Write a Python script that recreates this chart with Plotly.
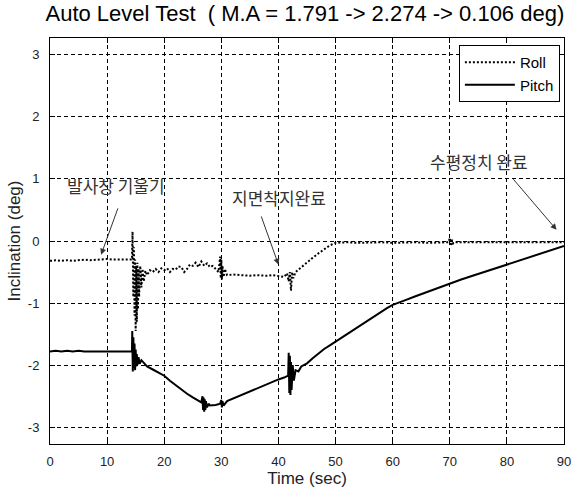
import plotly.graph_objects as go

# ---------------- data ----------------
roll_t = [0, 1, 2, 3, 4, 5, 6, 7, 8, 9, 10, 11, 12, 13, 14, 14.35,
          14.45, 14.5, 14.55, 14.6, 14.7, 14.8, 14.9, 15.0, 15.1, 15.2, 15.3, 15.4, 15.5, 15.6,
          15.8, 16.0, 16.2, 16.4, 16.7, 17, 17.5, 18, 18.5, 19, 19.5, 20, 20.5, 21, 21.5, 22,
          22.5, 23, 23.5, 24, 24.5, 25, 25.5, 26, 26.5, 27, 27.5, 28, 28.5, 29, 29.5, 29.8,
          29.9, 30.0, 30.1, 30.2, 30.4, 30.6, 31, 32, 33, 34, 35, 36, 37, 38, 39, 40, 41,
          41.5, 41.8, 42.0, 42.2, 42.4, 42.6, 43, 44, 45, 46, 47, 48, 49, 50, 51, 52, 54,
          56, 58, 60, 62, 64, 66, 68, 69.8, 70.0, 70.2, 70.4, 70.6, 71, 72, 74, 76, 78, 80,
          82, 84, 86, 88, 90]
roll_v = [-0.32, -0.31, -0.32, -0.31, -0.32, -0.31, -0.30, -0.31, -0.30, -0.29, -0.29, -0.30, -0.30, -0.29, -0.29, -0.30,
          0.15, -0.60, 0.05, -0.90, -0.10, -1.20, -0.30, -1.45, -0.40, -1.30, -0.35, -1.10, -0.45, -0.90,
          -0.40, -0.75, -0.45, -0.65, -0.48, -0.55, -0.47, -0.50, -0.45, -0.50, -0.44, -0.47, -0.44, -0.50, -0.45, -0.46,
          -0.41, -0.42, -0.50, -0.45, -0.38, -0.40, -0.35, -0.42, -0.33, -0.40, -0.36, -0.42, -0.40, -0.45, -0.50, -0.25,
          -0.60, -0.30, -0.62, -0.40, -0.58, -0.45, -0.55, -0.54, -0.55, -0.56, -0.56, -0.55, -0.56, -0.56, -0.55, -0.56, -0.58,
          -0.52, -0.65, -0.50, -0.80, -0.50, -0.60, -0.50, -0.42, -0.35, -0.27, -0.20, -0.13, -0.07, -0.03, -0.02, -0.02, -0.03,
          -0.02, -0.02, -0.03, -0.02, -0.02, -0.03, -0.02, -0.02, 0.05, -0.08, 0.02, -0.04, -0.02, -0.02, -0.03, -0.02, -0.02, -0.02,
          -0.03, -0.02, -0.02, -0.02, -0.02]

pitch_t = [0, 1, 2, 3, 4, 5, 6, 7, 8, 9, 10, 11, 12, 13, 14, 14.35,
           14.4, 14.5, 14.6, 14.7, 14.8, 14.9, 15.0, 15.1, 15.2, 15.3, 15.5, 15.7, 16, 16.5,
           17, 18, 19, 20, 21, 22, 23, 24, 25, 26, 26.5, 26.7, 26.8, 26.9, 27.0, 27.1, 27.2,
           27.3, 27.5, 27.8, 28, 29, 29.8, 30.0, 30.1, 30.2, 30.4, 31, 32, 33, 34, 35, 36, 37,
           38, 39, 40, 41, 41.7, 41.8, 41.9, 42.0, 42.1, 42.2, 42.3, 42.5, 42.7, 43, 43.5, 44,
           45, 46, 47, 48, 49, 50, 52, 54, 56, 58, 59, 60, 61, 62, 64, 66, 68, 70, 72, 74, 76, 78, 80,
           82, 84, 86, 88, 90]
pitch_v = [-1.78, -1.77, -1.78, -1.77, -1.78, -1.77, -1.78, -1.78, -1.77, -1.78, -1.78, -1.77, -1.78, -1.78, -1.78, -1.78,
           -1.45, -2.10, -1.55, -2.05, -1.65, -2.08, -1.75, -2.02, -1.82, -2.00, -1.87, -1.98, -1.92, -1.97,
           -2.02, -2.07, -2.12, -2.17, -2.25, -2.32, -2.40, -2.46, -2.52, -2.58, -2.60, -2.50, -2.72, -2.52, -2.75, -2.55, -2.72,
           -2.58, -2.68, -2.62, -2.65, -2.64, -2.62, -2.56, -2.68, -2.58, -2.65, -2.58, -2.54, -2.50, -2.46, -2.42, -2.38, -2.34,
           -2.31, -2.27, -2.23, -2.20, -2.17, -1.80, -2.45, -1.85, -2.48, -1.95, -2.40, -2.00, -2.25, -2.08, -2.10, -2.02,
           -1.97, -1.89, -1.81, -1.74, -1.68, -1.62, -1.49, -1.37, -1.25, -1.14, -1.08, -1.03, -0.99, -0.96, -0.89, -0.82, -0.75, -0.68, -0.62, -0.56, -0.50, -0.44, -0.38,
           -0.33, -0.27, -0.20, -0.14, -0.08]

x_ticks = [0, 10, 20, 30, 40, 50, 60, 70, 80, 90]
y_ticks = [-3, -2, -1, 0, 1, 2, 3]

title_text = "Auto Level Test  ( M.A = 1.791 -> 2.274 -> 0.106 deg)"
label_texts = ["발사창 기울기", "지면착지완료", "수평정치 완료"]
label_pos = [(11.6, 0.89), (40.1, 0.70), (75.1, 1.28)]
arrow_heads = [(8.95, -0.22), (40.0, -0.38), (88.7, 0.18)]
arrow_tails = [(11.98, 0.55), (36.9, 0.42), (80.9, 1.02)]

# ---------------- figure ----------------
fig = go.Figure()
fig.add_trace(go.Scatter(x=roll_t, y=roll_v, name="Roll", mode="lines",
                         line=dict(color="black", width=2, dash="2px,2px")))
fig.add_trace(go.Scatter(x=pitch_t, y=pitch_v, name="Pitch", mode="lines",
                         line=dict(color="black", width=2)))

for txt, (tx, ty) in zip(label_texts, label_pos):
    fig.add_annotation(x=tx, y=ty, xref="x", yref="y", text=txt, showarrow=False,
                       font=dict(family="Noto Sans CJK KR", size=17, color="#333333"))
for (hx, hy), (sx, sy) in zip(arrow_heads, arrow_tails):
    fig.add_annotation(x=hx, y=hy, ax=sx, ay=sy, xref="x", yref="y", axref="x", ayref="y",
                       text="", showarrow=True, arrowhead=2, arrowsize=1.2, arrowwidth=1,
                       arrowcolor="#333333")

axis_common = dict(showline=True, linecolor="black", linewidth=1, mirror="ticks",
                   ticks="inside", ticklen=5, tickcolor="black",
                   showgrid=True, gridcolor="black", gridwidth=1, griddash="4px,3px",
                   zeroline=False, ticklabeloverflow="allow", automargin=False,
                   tickfont=dict(family="Liberation Sans", size=13, color="#222222"))

fig.update_xaxes(range=[0, 90], tickvals=x_ticks, ticktext=[str(v) for v in x_ticks],
                 ticklabelstandoff=5,
                 title=dict(text="Time (sec)", font=dict(family="Liberation Sans", size=17, color="#222222"),
                            standoff=4),
                 **axis_common)
fig.update_yaxes(range=[-3.27, 3.27], tickvals=y_ticks, ticktext=[str(v) for v in y_ticks],
                 ticklabelstandoff=7,
                 title=dict(text="Inclination (deg)", font=dict(family="Liberation Sans", size=17, color="#222222"),
                            standoff=2),
                 **axis_common)

fig.update_layout(
    width=572, height=490,
    margin=dict(l=50, r=8, t=38, b=46),
    paper_bgcolor="white", plot_bgcolor="white",
    title=dict(text=title_text, x=0.533, xanchor="center", y=0.972, yanchor="middle",
               yref="container", font=dict(family="Liberation Sans", size=22, color="black")),
    showlegend=True,
    legend=dict(x=0.992, xanchor="right", y=0.983, yanchor="top",
                bgcolor="white", bordercolor="black", borderwidth=1, itemwidth=50,
                font=dict(family="Liberation Sans", size=15, color="black")),
)

fig.write_html("out.html", config={"displayModeBar": False},
               post_script="document.body.style.margin='0';")
